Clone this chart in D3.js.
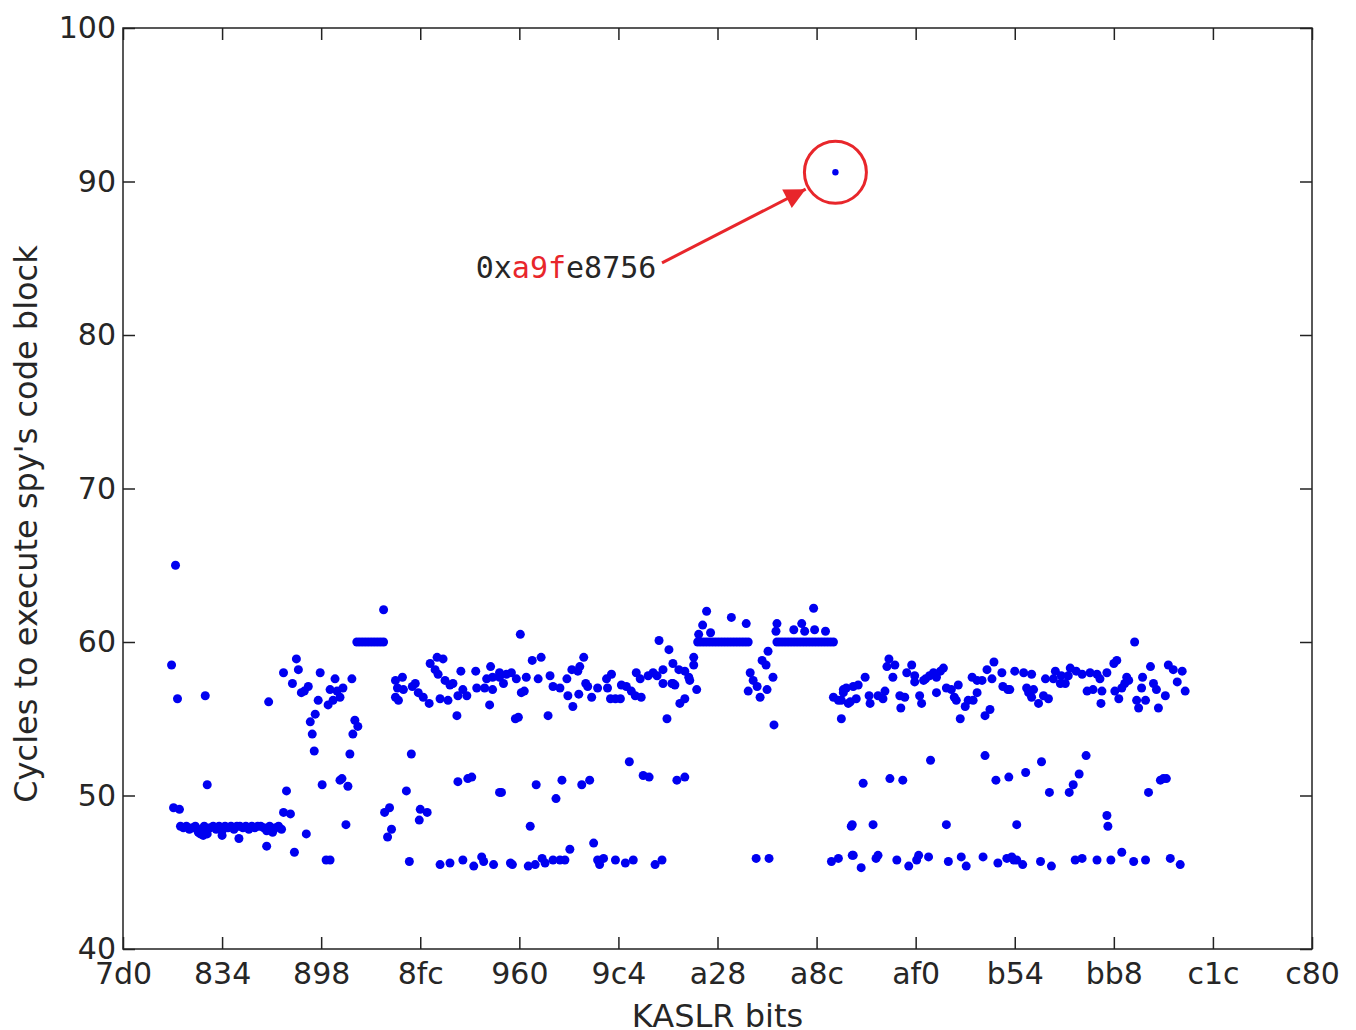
<!DOCTYPE html>
<html>
<head>
<meta charset="utf-8">
<script src="https://cdn.jsdelivr.net/npm/d3@7"></script>
<style>
  body { margin: 0; background: #fff; }
  svg text { font-family: 'DejaVu Sans', sans-serif; fill: #262626; }
</style>
</head>
<body>
<div class="scatterplot"></div>
<script>
// KASLR slot (as integer) -> cycles
const lowRun48 = [
  [2058, 48.0], [2061, 47.9], [2064, 48.0], [2067, 47.8], [2070, 47.9], [2073, 48.0],
  [2076, 47.6], [2079, 47.8], [2082, 48.0], [2085, 47.5], [2088, 47.9], [2091, 48.0],
  [2094, 47.8], [2097, 48.0], [2100, 47.7], [2103, 48.0], [2106, 47.9], [2109, 48.0],
  [2112, 47.8], [2115, 48.0], [2118, 48.0], [2121, 47.9], [2124, 48.0], [2127, 47.8],
  [2130, 48.0], [2133, 47.9], [2136, 48.0], [2139, 48.0], [2142, 47.9], [2145, 47.7],
  [2148, 48.0], [2151, 47.6], [2154, 47.9], [2157, 48.0], [2160, 47.8],
];

const plateau60 = [
  [2236, 60.0], [2239, 60.0], [2242, 60.0], [2245, 60.0], [2248, 60.0], [2251, 60.0],
  [2254, 60.0], [2257, 60.0], [2260, 60.0], [2263, 60.0],
  [2580, 60.0], [2583, 60.0], [2586, 60.0], [2589, 60.0], [2592, 60.0], [2595, 60.0],
  [2598, 60.0], [2601, 60.0], [2604, 60.0], [2607, 60.0], [2610, 60.0], [2613, 60.0],
  [2616, 60.0], [2619, 60.0], [2622, 60.0], [2625, 60.0], [2628, 60.0], [2631, 60.0],
  [2660, 60.0], [2663, 60.0], [2666, 60.0], [2669, 60.0], [2672, 60.0], [2675, 60.0],
  [2678, 60.0], [2681, 60.0], [2684, 60.0], [2687, 60.0], [2690, 60.0], [2693, 60.0],
  [2696, 60.0], [2699, 60.0], [2702, 60.0], [2705, 60.0], [2708, 60.0], [2711, 60.0],
  [2714, 60.0], [2717, 60.0],
];

const upperBand = [
  [2049, 58.5], [2053, 65.0], [2055, 56.3], [2083, 56.5], [2147, 56.1],
  [2162, 58.0], [2171, 57.3], [2175, 58.9], [2177, 58.2], [2180, 56.7], [2183, 56.8],
  [2187, 57.1], [2189, 54.8], [2191, 54.0], [2194, 55.3], [2197, 56.2], [2199, 58.0],
  [2207, 55.9], [2209, 56.9], [2212, 56.2], [2214, 57.6], [2216, 56.8], [2219, 56.4],
  [2222, 57.0], [2231, 57.6], [2232, 54.0], [2234, 54.9], [2237, 54.5], [2263, 62.1],
  [2275, 57.5], [2275, 56.4], [2277, 57.0], [2278, 56.2], [2282, 57.7], [2283, 56.9],
  [2292, 57.1], [2295, 57.3], [2298, 56.7], [2303, 56.4], [2309, 56.0],
  [2310, 58.6], [2315, 58.2], [2317, 59.0], [2318, 57.9], [2320, 56.3], [2323, 58.9],
  [2325, 57.5], [2328, 56.2], [2330, 57.2], [2333, 57.3], [2337, 55.2], [2338, 56.5],
  [2341, 58.1], [2343, 56.9], [2347, 56.5], [2356, 58.1], [2357, 57.0], [2365, 57.0],
  [2367, 57.6], [2370, 55.9], [2371, 58.4], [2373, 57.7], [2373, 56.9], [2380, 58.0],
  [2384, 57.3], [2387, 57.9], [2380, 57.7], [2392, 58.0], [2397, 57.6], [2402, 56.7],
  [2405, 56.8], [2396, 55.0], [2399, 55.1], [2401, 60.5], [2407, 57.7], [2413, 58.8],
  [2419, 57.6], [2422, 59.0], [2429, 55.2], [2431, 57.8], [2434, 57.1], [2441, 57.0],
  [2448, 57.6], [2449, 56.5], [2453, 58.2], [2454, 55.8], [2459, 58.1], [2460, 56.6],
  [2461, 58.4], [2465, 59.0], [2467, 57.3], [2469, 57.1], [2473, 56.4], [2479, 57.0],
  [2488, 57.6], [2489, 57.0], [2492, 56.3], [2493, 57.9], [2497, 56.3], [2502, 56.3],
  [2503, 57.2], [2508, 57.1], [2513, 56.8], [2517, 56.5], [2518, 58.0], [2522, 57.6],
  [2523, 56.4], [2530, 57.8], [2535, 58.0], [2539, 57.8], [2541, 60.1], [2545, 58.2],
  [2545, 57.3], [2549, 55.0], [2551, 59.5], [2555, 58.6], [2555, 57.3], [2561, 58.2],
  [2562, 56.0], [2554, 57.3], [2557, 57.2], [2567, 58.1], [2567, 56.3], [2571, 57.7],
  [2572, 57.5], [2576, 59.0], [2576, 58.5], [2579, 56.9],
  [2581, 60.5], [2585, 61.1], [2589, 62.0], [2593, 60.6], [2614, 61.6], [2629, 61.2],
  [2631, 56.8], [2633, 58.0], [2636, 57.5], [2640, 57.1], [2643, 56.4], [2645, 58.8],
  [2649, 58.5], [2650, 56.9], [2651, 59.4], [2656, 57.7], [2657, 54.6],
  [2659, 60.7], [2660, 61.2], [2677, 60.8], [2685, 61.2], [2688, 60.7], [2697, 62.2],
  [2698, 60.8], [2709, 60.7],
  [2717, 56.4], [2722, 56.2], [2725, 55.0], [2727, 56.9], [2732, 56.0], [2725, 56.2],
  [2727, 56.7], [2730, 57.0], [2734, 56.1], [2737, 57.1], [2740, 56.3], [2742, 57.2],
  [2749, 57.7], [2753, 56.5], [2754, 56.0], [2762, 56.5], [2767, 56.3], [2769, 56.8],
  [2771, 58.4], [2773, 58.9], [2777, 57.7], [2779, 58.5], [2784, 56.5], [2785, 55.7],
  [2789, 56.4], [2791, 58.0], [2796, 58.5], [2799, 57.8], [2799, 57.4], [2804, 56.5],
  [2806, 56.0], [2808, 57.5], [2810, 57.6], [2814, 57.8], [2818, 58.0], [2821, 57.7],
  [2821, 56.7], [2825, 58.1], [2828, 58.3], [2831, 57.0], [2836, 56.9], [2839, 56.4],
  [2841, 56.2], [2843, 57.2], [2845, 55.0], [2850, 55.8], [2853, 56.2], [2857, 57.7],
  [2858, 56.2], [2862, 57.5], [2862, 56.7], [2867, 57.5], [2870, 55.2], [2872, 58.2],
  [2875, 55.6], [2877, 57.6], [2879, 58.7], [2887, 58.0], [2888, 57.1], [2893, 56.9],
  [2895, 56.9], [2900, 58.1], [2909, 58.0], [2912, 57.0], [2914, 56.7], [2917, 57.9],
  [2917, 56.4], [2919, 56.9], [2924, 56.0], [2929, 56.5], [2931, 57.6], [2934, 56.3],
  [2939, 57.6], [2941, 58.1], [2946, 57.3], [2947, 57.8], [2951, 57.3], [2954, 57.8],
  [2956, 58.3], [2962, 58.1], [2968, 57.9], [2973, 56.8], [2976, 58.0], [2979, 56.9],
  [2983, 57.9], [2986, 57.6], [2987, 56.0], [2988, 56.8], [2993, 58.0], [3000, 58.6],
  [3001, 56.8], [3003, 58.8], [3005, 56.3], [3008, 57.0], [3011, 57.3], [3013, 57.7],
  [3015, 57.5], [3021, 60.0], [3023, 56.2], [3025, 55.7], [3028, 57.0], [3029, 57.7],
  [3032, 56.2], [3037, 58.4], [3040, 57.3], [3043, 56.9], [3045, 55.7], [3052, 56.5],
  [3055, 58.5], [3060, 58.2], [3064, 57.4], [3069, 58.1], [3072, 56.8],
];

const middleBand = [
  [2051, 49.2], [2057, 49.1], [2085, 50.7], [2162, 48.9], [2165, 50.3], [2169, 48.8],
  [2193, 52.9], [2201, 50.7], [2219, 51.0], [2221, 51.1], [2225, 48.1], [2227, 50.6],
  [2229, 52.7], [2264, 48.9], [2267, 47.3], [2269, 49.2], [2271, 47.8], [2286, 50.3],
  [2291, 52.7], [2299, 48.4], [2300, 49.1], [2307, 48.9], [2338, 50.9], [2348, 51.1],
  [2352, 51.2], [2380, 50.2], [2382, 50.2], [2411, 48.0], [2417, 50.7], [2437, 49.8],
  [2443, 51.0], [2463, 50.7], [2471, 51.0], [2511, 52.2], [2525, 51.3], [2531, 51.2],
  [2559, 51.0], [2567, 51.2], [2736, 48.1], [2735, 48.0], [2747, 50.8], [2757, 48.1],
  [2774, 51.1], [2787, 51.0], [2815, 52.3], [2831, 48.1], [2870, 52.6], [2881, 51.0],
  [2894, 51.2], [2902, 48.1], [2911, 51.5], [2927, 52.2], [2935, 50.2], [2955, 50.2],
  [2959, 50.7], [2965, 51.4], [2972, 52.6], [2993, 48.7], [2994, 48.0], [3035, 50.2],
  [3047, 51.0], [3050, 51.1], [3053, 51.1],
];

const lowerBand = [
  [2078, 47.5], [2081, 47.4], [2100, 47.4], [2117, 47.2], [2145, 46.7], [2173, 46.3],
  [2185, 47.5], [2205, 45.8], [2209, 45.8], [2289, 45.7], [2320, 45.5], [2330, 45.6],
  [2343, 45.8], [2354, 45.4], [2362, 46.0], [2364, 45.7], [2374, 45.5], [2391, 45.6],
  [2393, 45.5], [2409, 45.4], [2416, 45.5], [2423, 45.9], [2426, 45.6], [2434, 45.8],
  [2441, 45.8], [2446, 45.8], [2451, 46.5], [2475, 46.9], [2479, 45.8], [2481, 45.5],
  [2485, 45.9], [2497, 45.8], [2507, 45.6], [2515, 45.8], [2537, 45.5], [2544, 45.8],
  [2639, 45.9], [2652, 45.9], [2715, 45.7], [2722, 45.9], [2736, 46.1], [2737, 46.1],
  [2745, 45.3], [2760, 45.9], [2762, 46.1], [2781, 45.8], [2793, 45.4], [2801, 45.8],
  [2803, 46.1], [2813, 46.0], [2833, 45.7], [2846, 46.0], [2851, 45.4], [2868, 46.0],
  [2883, 45.6], [2892, 45.9], [2897, 46.0], [2902, 45.8], [2899, 45.8], [2908, 45.5],
  [2926, 45.7], [2937, 45.4], [2961, 45.8], [2968, 45.9], [2983, 45.8], [2997, 45.8],
  [3008, 46.3], [3020, 45.7], [3032, 45.8], [3057, 45.9], [3067, 45.5],
];

const outlier = [2719, 90.6];

const xTicks = [2000, 2100, 2200, 2300, 2400, 2500, 2600, 2700, 2800, 2900, 3000, 3100, 3200];
const yTicks = [40, 50, 60, 70, 80, 90, 100];

const annotationParts = [
  { text: '0x', color: '#262626' },
  { text: 'a9f', color: '#e8262b' },
  { text: 'e8756', color: '#262626' },
];
const annotationTextAt = [2356, 83.7];
const arrowFrom = [2544, 84.7];
const arrowTo = [2689, 89.5];

function drawScatterPlot() {
  const dimensions = {
    width: 1356,
    height: 1030,
    margin: { top: 28, right: 44, bottom: 81, left: 123 },
  };
  dimensions.boundedWidth =
    dimensions.width - dimensions.margin.left - dimensions.margin.right;
  dimensions.boundedHeight =
    dimensions.height - dimensions.margin.top - dimensions.margin.bottom;

  const svg = d3
    .select('.scatterplot')
    .append('svg')
    .attr('width', dimensions.width)
    .attr('height', dimensions.height);

  const bounds = svg
    .append('g')
    .attr('transform', `translate(${dimensions.margin.left},${dimensions.margin.top})`);

  const xScale = d3.scaleLinear().domain([2000, 3200]).range([0, dimensions.boundedWidth]);
  const yScale = d3.scaleLinear().domain([40, 100]).range([dimensions.boundedHeight, 0]);

  // dots
  const dataset = [...lowRun48, ...plateau60, ...upperBand, ...middleBand, ...lowerBand];
  bounds
    .append('g')
    .selectAll('circle')
    .data(dataset)
    .join('circle')
    .attr('cx', (d) => xScale(d[0]))
    .attr('cy', (d) => yScale(d[1]))
    .attr('r', 4.5)
    .attr('fill', '#0000f0');

  bounds
    .append('circle')
    .attr('cx', xScale(outlier[0]))
    .attr('cy', yScale(outlier[1]))
    .attr('r', 3.2)
    .attr('fill', '#0000f0');

  // axes, matplotlib classic: ticks inside on all four sides
  const tickLen = 12;
  const styleAxis = (g) => {
    g.select('.domain').remove();
    g.selectAll('.tick line').attr('stroke', '#222').attr('stroke-width', 1.5);
    g.selectAll('.tick text')
      .style('font-family', "'DejaVu Sans', sans-serif")
      .style('font-size', '30px')
      .attr('fill', '#262626');
  };

  const xAxis = bounds
    .append('g')
    .attr('transform', `translate(0,${dimensions.boundedHeight})`)
    .call(
      d3.axisBottom(xScale).tickValues(xTicks).tickSizeInner(-tickLen).tickSizeOuter(0)
        .tickPadding(9).tickFormat((d) => d.toString(16))
    )
    .call(styleAxis);
  xAxis.selectAll('.tick text').attr('dy', '0.85em');

  bounds
    .append('g')
    .call(d3.axisTop(xScale).tickValues(xTicks).tickSizeInner(-tickLen).tickSizeOuter(0).tickFormat(''))
    .call(styleAxis);

  bounds
    .append('g')
    .call(
      d3.axisLeft(yScale).tickValues(yTicks).tickSizeInner(-tickLen).tickSizeOuter(0)
        .tickPadding(7).tickFormat(d3.format('d'))
    )
    .call(styleAxis);

  bounds
    .append('g')
    .attr('transform', `translate(${dimensions.boundedWidth},0)`)
    .call(d3.axisRight(yScale).tickValues(yTicks).tickSizeInner(-tickLen).tickSizeOuter(0).tickFormat(''))
    .call(styleAxis);

  // frame
  bounds
    .append('rect')
    .attr('width', dimensions.boundedWidth)
    .attr('height', dimensions.boundedHeight)
    .attr('fill', 'none')
    .attr('stroke', '#222')
    .attr('stroke-width', 1.5);

  // axis labels
  svg
    .append('text')
    .attr('x', dimensions.margin.left + dimensions.boundedWidth / 2)
    .attr('y', 1027)
    .attr('text-anchor', 'middle')
    .style('font-size', '32px')
    .text('KASLR bits');

  svg
    .append('text')
    .attr('transform', 'translate(37,524) rotate(-90)')
    .attr('text-anchor', 'middle')
    .style('font-size', '32px')
    .text("Cycles to execute spy's code block");

  // annotation
  const red = '#e8262b';
  svg
    .append('defs')
    .append('marker')
    .attr('id', 'head')
    .attr('viewBox', '0 0 10 10')
    .attr('refX', 10)
    .attr('refY', 5)
    .attr('markerWidth', 9)
    .attr('markerHeight', 7)
    .attr('markerUnits', 'strokeWidth')
    .attr('orient', 'auto')
    .append('path')
    .attr('d', 'M0,0L10,5L0,10Z')
    .attr('fill', red);

  bounds
    .append('line')
    .attr('x1', xScale(arrowFrom[0]))
    .attr('y1', yScale(arrowFrom[1]))
    .attr('x2', xScale(arrowTo[0]))
    .attr('y2', yScale(arrowTo[1]))
    .attr('stroke', red)
    .attr('stroke-width', 3)
    .attr('marker-end', 'url(#head)');

  bounds
    .append('circle')
    .attr('cx', xScale(outlier[0]))
    .attr('cy', yScale(outlier[1]))
    .attr('r', 31)
    .attr('fill', 'none')
    .attr('stroke', red)
    .attr('stroke-width', 3);

  const label = bounds
    .append('text')
    .attr('x', xScale(annotationTextAt[0]))
    .attr('y', yScale(annotationTextAt[1]))
    .style('font-family', "'DejaVu Sans Mono', monospace")
    .style('font-size', '30px');
  label
    .selectAll('tspan')
    .data(annotationParts)
    .join('tspan')
    .attr('fill', (d) => d.color)
    .text((d) => d.text);
}

drawScatterPlot();
</script>
</body>
</html>
